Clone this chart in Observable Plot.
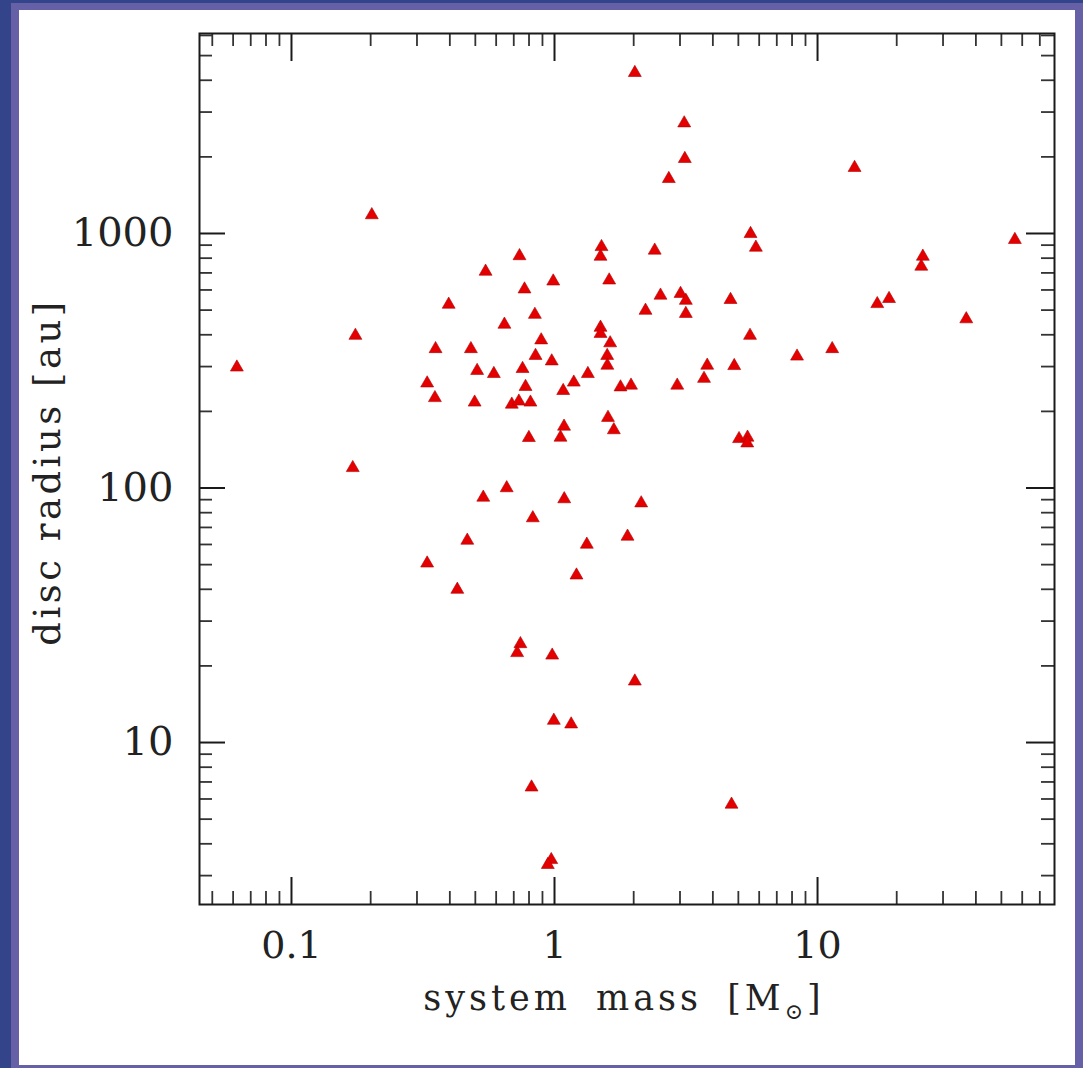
<!DOCTYPE html>
<html>
<head>
<meta charset="utf-8">
<script src="https://cdn.jsdelivr.net/npm/d3@7"></script>
<script src="https://cdn.jsdelivr.net/npm/@observablehq/plot@0.6"></script>
<style>
  html, body { margin: 0; padding: 0; overflow: hidden; }
  body { width: 1083px; height: 1068px; background: #34448a; position: relative; }
  #purple { position: absolute; left: 11px; top: 3px; width: 1072px; height: 1065px; background: #6661a7; }
  #white { position: absolute; left: 19px; top: 10px; width: 1056px; height: 1055px; background: #ffffff; }
  #chart { position: absolute; left: 0; top: 0; }
</style>
</head>
<body>
<div id="purple"></div>
<div id="white"></div>
<div id="chart"></div>
<script>
// system mass [M_sun]
const mass = [
  0.062, 0.171, 0.175, 0.202, 0.328, 0.351, 0.328, 0.427, 0.396, 0.353,
  0.466, 0.481, 0.497, 0.508, 0.536, 0.547, 0.588, 0.645, 0.658, 0.688,
  0.732, 0.810, 0.736, 0.756, 0.769, 0.776, 0.799, 0.742, 0.721, 0.818,
  0.827, 0.842, 0.847, 0.890, 0.980, 0.976, 0.989, 0.994, 0.972, 0.943,
  1.054, 1.087, 1.079, 1.089, 1.157, 1.184, 1.212, 1.327, 1.339, 1.509,
  1.496, 1.496, 1.496, 1.614, 1.628, 1.586, 1.588, 1.597, 1.681, 1.782,
  1.954, 1.895, 2.020, 2.020, 2.136, 2.218, 2.404, 2.529, 2.720, 2.928,
  3.014, 3.157, 3.157, 3.113, 3.129, 3.702, 3.807, 4.669, 4.710, 4.823,
  5.030, 5.418, 5.404, 5.538, 5.563, 5.828, 8.357, 11.37, 13.83, 16.87,
  18.70, 25.14, 24.80, 36.77, 56.26
];
// disc radius [au]
const radius = [
  298, 120, 397, 1182, 258, 226, 50.6, 39.9, 526, 352,
  62.2, 352, 217, 289, 91.8, 709, 281, 439, 100, 213,
  219, 217, 816, 294, 604, 250, 157.5, 24.4, 22.5, 6.67,
  76.2, 480, 331, 381, 22.0, 315, 649, 12.2, 3.46, 3.31,
  158, 174.5, 241, 90.5, 11.8, 260, 45.4, 60.0, 281, 886,
  812, 427, 404, 655, 371, 331, 303, 189, 169, 249,
  253, 64.5, 4280, 17.4, 87.2, 498, 858, 571, 1640, 253,
  580, 545, 484, 2713, 1966, 269, 303, 549, 5.71, 302,
  156, 158, 150, 397, 997, 881, 329, 352, 1813, 529,
  554, 812, 742, 461, 945
];

// tick values
const xMajor = [0.1, 1, 10];
const xMinor = [0.05, 0.06, 0.07, 0.08, 0.09,
  0.2, 0.3, 0.4, 0.5, 0.6, 0.7, 0.8, 0.9,
  2, 3, 4, 5, 6, 7, 8, 9,
  20, 30, 40, 50, 60, 70];
const yMajor = [10, 100, 1000];
const yMinor = [3, 4, 5, 6, 7, 8, 9,
  20, 30, 40, 50, 60, 70, 80, 90,
  200, 300, 400, 500, 600, 700, 800, 900,
  2000, 3000, 4000, 5000, 6000];
const xLabels = ["0.1", "1", "10"];
const yLabels = ["10", "100", "1000"];

const data = mass.map((m, i) => ({mass: m, radius: radius[i]}));
const xLabelMap = new Map(xMajor.map((v, i) => [v, xLabels[i]]));
const yLabelMap = new Map(yMajor.map((v, i) => [v, yLabels[i]]));

const W = 1083, H = 1068;
const mT = 33, mL = 199, mR = 29, mB = 164;
const plotH = H - mT - mB;
const plotW = W - mL - mR;
const tickCol = "#1a1a1a";
const minorCol = "#333";

const chart = Plot.plot({
  width: W,
  height: H,
  marginTop: mT,
  marginLeft: mL,
  marginRight: mR,
  marginBottom: mB,
  style: {background: "transparent", fontFamily: "DejaVu Serif", color: "#222", overflow: "visible"},
  x: {type: "log", domain: [0.0447, 79.6]},
  y: {type: "log", domain: [2.31, 6106]},
  marks: [
    // major ticks
    Plot.tickX(xMajor, {x: d => d, insetTop: plotH - 27, stroke: tickCol, strokeWidth: 2}),
    Plot.tickX(xMajor, {x: d => d, insetBottom: plotH - 28, stroke: tickCol, strokeWidth: 2}),
    Plot.tickY(yMajor, {y: d => d, insetRight: plotW - 26, stroke: tickCol, strokeWidth: 2}),
    Plot.tickY(yMajor, {y: d => d, insetLeft: plotW - 28, stroke: tickCol, strokeWidth: 2}),
    // minor ticks
    Plot.tickX(xMinor, {x: d => d, insetTop: plotH - 13, stroke: minorCol, strokeWidth: 1.8}),
    Plot.tickX(xMinor, {x: d => d, insetBottom: plotH - 13, stroke: minorCol, strokeWidth: 1.8}),
    Plot.tickY(yMinor, {y: d => d, insetRight: plotW - 13, stroke: minorCol, strokeWidth: 1.8}),
    Plot.tickY(yMinor, {y: d => d, insetLeft: plotW - 13, stroke: minorCol, strokeWidth: 1.8}),
    Plot.frame({stroke: tickCol, strokeWidth: 2}),
    // tick labels
    Plot.axisX(xMajor, {anchor: "bottom", tickSize: 0, tickPadding: 27, label: null,
      tickFormat: d => xLabelMap.get(d), fontSize: 38}),
    Plot.axisY(yMajor, {anchor: "left", tickSize: 0, tickPadding: 26, label: null,
      tickFormat: d => yLabelMap.get(d), fontSize: 40}),
    // data
    Plot.dot(data, {x: "mass", y: "radius", symbol: "triangle", r: 4.8,
      fill: "#e40000", stroke: "#b00000", strokeWidth: 0.6})
  ]
});

document.getElementById("chart").appendChild(chart);

const svg = d3.select(chart);
// x axis label
const xl = svg.append("text")
  .attr("x", 624).attr("y", 1010)
  .attr("text-anchor", "middle")
  .attr("font-family", "DejaVu Serif")
  .attr("font-size", 35)
  .attr("fill", "#222")
  .style("letter-spacing", "4px")
  .style("word-spacing", "10px");
xl.append("tspan").text("system mass [M");
xl.append("tspan").attr("font-size", 22).attr("dy", 9).text("\u2299");
xl.append("tspan").attr("dy", -9).text("]");

// y axis label
svg.append("text")
  .attr("transform", "translate(60,472) rotate(-90)")
  .attr("text-anchor", "middle")
  .attr("font-family", "DejaVu Serif")
  .attr("font-size", 37)
  .attr("fill", "#222")
  .style("letter-spacing", "3.5px")
  .text("disc radius [au]");
</script>
</body>
</html>
